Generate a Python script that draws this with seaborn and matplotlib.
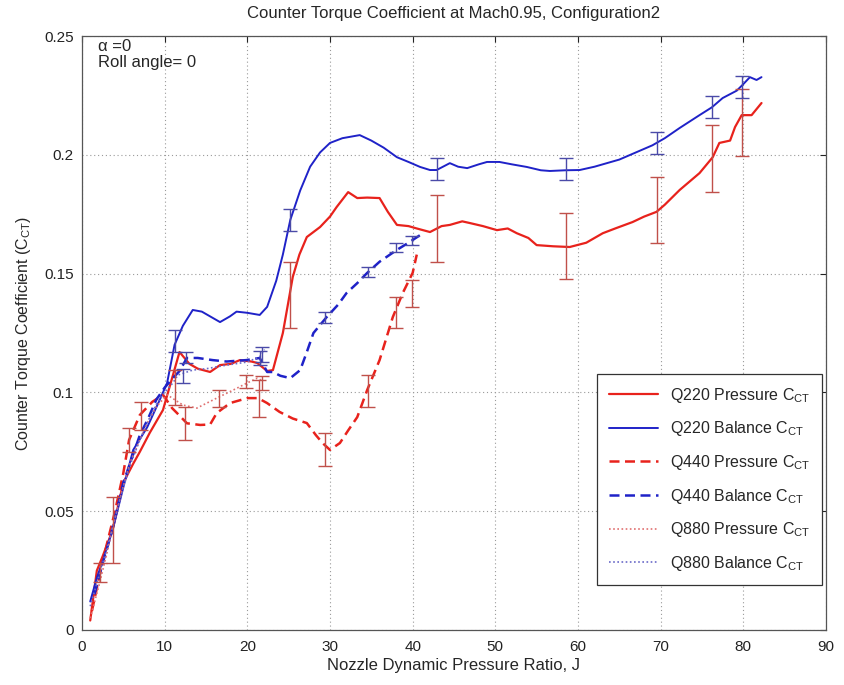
import matplotlib
matplotlib.use("Agg")
import matplotlib.pyplot as plt
import seaborn as sns
import numpy as np
import pandas as pd

# ---------------- data ----------------
q220p_x = [1, 1.8, 2.5, 3.7, 5, 6.2, 7, 8.2, 9.8, 10.9, 11.8, 13, 14, 15.5, 16.7, 18, 19.1, 20.5, 21.2, 22.4,
           23.1, 24.3, 25.5, 26.3, 27.2, 28.8, 30, 30.8, 32.2, 33.3, 34.5, 36, 37, 38.1, 39.5, 40.5, 42.1, 43.5,
           44.5, 46, 46.9, 48.5, 50.2, 51.5, 52.6, 54, 55, 57, 59, 61, 63, 64.5, 66.6, 68, 69.5, 70.5, 72.3,
           74.7, 76.3, 77.1, 78.4, 79, 79.8, 81, 82.2]
q220p_y = [0.004, 0.025, 0.031, 0.042, 0.062, 0.07, 0.075, 0.083, 0.0926, 0.106, 0.117, 0.112, 0.110, 0.1086,
           0.1115, 0.112, 0.1136, 0.113, 0.1124, 0.109, 0.1094, 0.125, 0.1486, 0.158, 0.1654, 0.1696, 0.174,
           0.178, 0.1843, 0.1818, 0.182, 0.1818, 0.176, 0.1705, 0.170, 0.169, 0.1675, 0.170, 0.1705, 0.172,
           0.1713, 0.170, 0.1683, 0.169, 0.167, 0.165, 0.162, 0.1615, 0.1612, 0.163, 0.167, 0.169, 0.1717,
           0.174, 0.176, 0.179, 0.1852, 0.1923, 0.199, 0.205, 0.206, 0.2117, 0.2167, 0.2167, 0.2218]

q220b_x = [1, 1.8, 2.5, 3.7, 5, 6.2, 7.9, 9.4, 10.3, 11.2, 12.2, 13.4, 14.5, 15.5, 16.7, 17.9, 18.7, 20, 21.5,
           22.4, 23.5, 24.3, 25.2, 26.4, 27.6, 28.8, 30, 31.5, 33.6, 35, 36.5, 38.1, 39.5, 40.9, 42.1, 42.9,
           44.5, 45.5, 46.6, 48, 49, 50.5, 52, 53.8, 55.5, 56.6, 58.5, 60.2, 62, 63.5, 65, 67, 69, 70.5, 72.3,
           74.7, 76.2, 77.5, 79.2, 79.9, 80.8, 81.6, 82.2]
q220b_y = [0.012, 0.022, 0.029, 0.042, 0.06, 0.0758, 0.0854, 0.0968, 0.104, 0.120, 0.128, 0.1347, 0.134, 0.132,
           0.1296, 0.132, 0.134, 0.1335, 0.1326, 0.136, 0.147, 0.158, 0.1726, 0.185, 0.195, 0.201, 0.205, 0.207,
           0.2083, 0.206, 0.203, 0.199, 0.197, 0.1949, 0.1936, 0.1936, 0.1965, 0.195, 0.1944, 0.196, 0.197,
           0.197, 0.196, 0.1949, 0.1935, 0.1932, 0.1935, 0.1936, 0.195, 0.1965, 0.198, 0.201, 0.204, 0.207,
           0.2113, 0.2167, 0.220, 0.2239, 0.227, 0.2294, 0.2327, 0.2315, 0.2327]

q440p_x = [1.2, 2.2, 3, 4, 5, 5.7, 7, 8.5, 9.8, 10.9, 11.5, 12.7, 14.3, 15.5, 16.3, 17.9, 20, 21.3, 22.4, 23.9,
           25.5, 27.2, 28.3, 29.1, 30, 31.2, 32.2, 33.3, 34.5, 36, 37.6, 38.8, 40, 40.5]
q440p_y = [0.008, 0.024, 0.036, 0.05, 0.066, 0.08, 0.0905, 0.096, 0.099, 0.0934, 0.0913, 0.087, 0.0863, 0.0865,
           0.0913, 0.0955, 0.0976, 0.0976, 0.0955, 0.0918, 0.089, 0.0871, 0.082, 0.0787, 0.0758, 0.0787, 0.084,
           0.0896, 0.101, 0.1136, 0.1317, 0.1418, 0.1503, 0.158]

q440b_x = [1.5, 2.5, 3.5, 5, 6, 7, 8, 9, 10, 11, 11.8, 12.7, 14, 15.8, 17.5, 19.9, 21.5, 22.4, 23.1, 24, 25.2,
           26.4, 27.2, 28, 29.6, 31, 32, 33.3, 34.5, 36, 38.1, 39.5, 40.9]
q440b_y = [0.015, 0.028, 0.04, 0.062, 0.072, 0.082, 0.089, 0.097, 0.102, 0.106, 0.109, 0.1145, 0.1145, 0.1136,
           0.113, 0.1136, 0.1145, 0.1086, 0.1086, 0.107, 0.106, 0.1094, 0.117, 0.125, 0.1317, 0.137, 0.1418,
           0.146, 0.1503, 0.155, 0.16, 0.163, 0.1662]

q880p_x = [1, 2, 3, 3.7, 4.8, 5.8, 7, 7.9, 9, 10.3, 12.2, 13.9, 16.3, 18.3, 20, 21.2, 21.8]
q880p_y = [0.005, 0.018, 0.032, 0.043, 0.058, 0.0703, 0.08, 0.0871, 0.094, 0.099, 0.0947, 0.0934, 0.0976,
           0.101, 0.104, 0.106, 0.105]

q880b_x = [1, 2, 3, 4, 5, 6, 7, 8, 9, 10, 11, 11.6, 13.4, 15.1, 17.5, 20, 21.5, 22.1]
q880b_y = [0.01, 0.022, 0.034, 0.047, 0.06, 0.071, 0.08, 0.088, 0.095, 0.1, 0.104, 0.1073, 0.1094, 0.110,
           0.1115, 0.1128, 0.115, 0.118]

# error bars (x, centre, half-width)
eb_q220p_x = [3.7, 25.2, 43, 58.5, 69.5, 76.2, 79.9]
eb_q220p_y = [0.042, 0.141, 0.169, 0.1616, 0.1768, 0.1984, 0.2136]
eb_q220p_e = [0.014, 0.014, 0.014, 0.014, 0.014, 0.014, 0.014]

eb_q220b_x = [11.2, 25.2, 42.9, 58.5, 69.5, 76.2, 79.9]
eb_q220b_y = [0.1217, 0.1726, 0.194, 0.194, 0.205, 0.220, 0.2285]
eb_q220b_e = [0.0046, 0.0046, 0.0046, 0.0046, 0.0046, 0.0046, 0.0046]

eb_q440p_x = [2.2, 5.7, 7.1, 12.5, 21.4, 29.4, 34.6, 38, 39.9]
eb_q440p_y = [0.024, 0.08, 0.09, 0.087, 0.0975, 0.076, 0.1006, 0.1335, 0.1415]
eb_q440p_e = [0.004, 0.005, 0.006, 0.007, 0.0077, 0.007, 0.0067, 0.0065, 0.0057]

eb_q440b_x = [12.6, 21.5, 29.4, 34.6, 38, 39.9]
eb_q440b_y = [0.1145, 0.1145, 0.1315, 0.1507, 0.161, 0.164]
eb_q440b_e = [0.0023, 0.003, 0.0023, 0.002, 0.002, 0.002]

eb_q880p_x = [11.3, 16.6, 19.9, 21.8]
eb_q880p_y = [0.102, 0.0975, 0.1045, 0.104]
eb_q880p_e = [0.0074, 0.0036, 0.0028, 0.003]

eb_q880b_x = [12.2, 21.8]
eb_q880b_y = [0.107, 0.116]
eb_q880b_e = [0.003, 0.003]

x_ticks = [0, 10, 20, 30, 40, 50, 60, 70, 80, 90]
y_ticks = [0, 0.05, 0.1, 0.15, 0.2, 0.25]
y_tick_labels = ["0", "0.05", "0.1", "0.15", "0.2", "0.25"]

# ---------------- style ----------------
sns.set_style("white")
plt.rcParams["font.family"] = ["Liberation Sans", "DejaVu Sans"]
plt.rcParams["mathtext.fontset"] = "custom"
plt.rcParams["mathtext.rm"] = "Liberation Sans"
plt.rcParams["mathtext.it"] = "Liberation Sans"

RED = "#e8221c"
BLUE = "#1f22c8"
RED_EB = "#c0504a"
BLUE_EB = "#4a4aa8"

fig = plt.figure(figsize=(8.45, 6.85), dpi=100)
ax = fig.add_axes([0.097, 0.0803, 0.8805, 0.8671])

series = [
    (q220p_x, q220p_y, "Q220 Pressure C$_{CT}$", RED, "-", 1.6),
    (q220b_x, q220b_y, "Q220 Balance C$_{CT}$", BLUE, "-", 1.4),
    (q440p_x, q440p_y, "Q440 Pressure C$_{CT}$", RED, (0, (4, 2.2)), 1.8),
    (q440b_x, q440b_y, "Q440 Balance C$_{CT}$", BLUE, (0, (4, 2.2)), 1.8),
    (q880p_x, q880p_y, "Q880 Pressure C$_{CT}$", "#e07070", (0, (1, 1.5)), 1.2),
    (q880b_x, q880b_y, "Q880 Balance C$_{CT}$", "#6a6ac8", (0, (1, 1.5)), 1.2),
]
for xs, ys, lab, col, ls, lw in series:
    sns.lineplot(x=xs, y=ys, ax=ax, color=col, linestyle=ls, linewidth=lw,
                 label=lab, estimator=None, sort=False)

ebs = [
    (eb_q220p_x, eb_q220p_y, eb_q220p_e, RED_EB),
    (eb_q220b_x, eb_q220b_y, eb_q220b_e, BLUE_EB),
    (eb_q440p_x, eb_q440p_y, eb_q440p_e, RED_EB),
    (eb_q440b_x, eb_q440b_y, eb_q440b_e, BLUE_EB),
    (eb_q880p_x, eb_q880p_y, eb_q880p_e, RED_EB),
    (eb_q880b_x, eb_q880b_y, eb_q880b_e, BLUE_EB),
]
for xs, ys, es, col in ebs:
    ax.errorbar(xs, ys, yerr=es, fmt="none", ecolor=col, elinewidth=1.0,
                capsize=5, capthick=1.0, zorder=3)

ax.set_xlim(0, 90)
ax.set_ylim(0, 0.25)
ax.set_xticks(x_ticks)
ax.set_yticks(y_ticks)
ax.set_yticklabels(y_tick_labels)
ax.tick_params(direction="in", top=True, right=True, length=4, width=0.8,
               labelsize=11, colors="#222222")
ax.tick_params(axis="x", pad=7)
ax.tick_params(axis="y", pad=6)
ax.grid(True, linestyle=(0, (1, 2.5)), color="#9a9a9a", linewidth=0.8)
for s in ax.spines.values():
    s.set_color("#555555")
    s.set_linewidth(0.9)

ax.set_title("Counter Torque Coefficient at Mach0.95, Configuration2", fontsize=12, pad=13)
ax.set_xlabel("Nozzle Dynamic Pressure Ratio, J", fontsize=12, labelpad=3)
ax.set_ylabel("Counter Torque Coefficient (C$_{CT}$)", fontsize=11.5, labelpad=8)

ax.text(0.0215, 0.995, "\u03b1 =0\nRoll angle= 0", transform=ax.transAxes,
        va="top", ha="left", fontsize=12, linespacing=1.05)

leg = ax.legend(loc="lower right", bbox_to_anchor=(0.9946, 0.0758), fontsize=11.5,
                frameon=True, fancybox=False, framealpha=1, edgecolor="#333333",
                handlelength=3.1, handletextpad=0.7, labelspacing=0.92, borderpad=0.75,
                borderaxespad=0)
leg.get_frame().set_linewidth(0.9)

fig.savefig("out.png", dpi=100)
